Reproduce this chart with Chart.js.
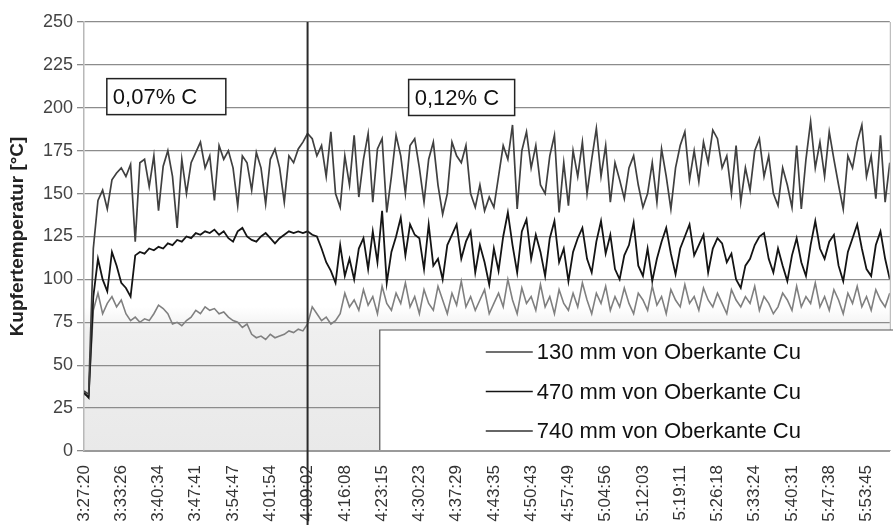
<!DOCTYPE html>
<html>
<head>
<meta charset="utf-8">
<script src="https://cdn.jsdelivr.net/npm/chart.js@4"></script>
<style>
html, body { margin: 0; padding: 0; background: #fff; }
</style>
</head>
<body>
<canvas id="grafico" width="893" height="531"></canvas>
<script>
const zeitLabels = ['3:27:20', '3:33:26', '3:40:34', '3:47:41', '3:54:47', '4:01:54', '4:09:02', '4:16:08',
  '4:23:15', '4:30:23', '4:37:29', '4:43:35', '4:50:43', '4:57:49', '5:04:56', '5:12:03', '5:19:11',
  '5:26:18', '5:33:24', '5:40:31', '5:47:38', '5:53:45']

const reihen = ['130 mm von Oberkante Cu', '470 mm von Oberkante Cu', '740 mm von Oberkante Cu']
const hinweise = ['0,07% C', '0,12% C']

// Kupfertemperatur je Messpunkt (8 Punkte pro Zeitlabel)
const t130 = [35, 33, 118, 146, 152, 141, 158, 162, 165, 160, 167, 122, 168, 170, 154, 172, 140, 166, 175, 160,
  130, 170, 150, 168, 174, 180, 165, 172, 146, 178, 170, 175, 165, 143, 172, 168, 152, 174, 165, 144,
  170, 176, 165, 145, 172, 168, 176, 180, 185, 182, 172, 178, 160, 186, 150, 142, 172, 155, 184, 148,
  170, 185, 145, 176, 182, 139, 160, 184, 172, 150, 178, 182, 165, 145, 170, 180, 155, 138, 150, 180,
  172, 168, 178, 150, 142, 155, 140, 148, 142, 160, 178, 170, 190, 141, 175, 186, 165, 178, 155, 150,
  172, 184, 139, 168, 143, 175, 160, 180, 150, 170, 188, 160, 178, 145, 168, 158, 147, 165, 172, 155,
  142, 150, 168, 145, 176, 160, 141, 165, 178, 186, 158, 175, 157, 180, 168, 187, 182, 165, 172, 150,
  178, 145, 165, 152, 175, 182, 160, 172, 150, 143, 165, 155, 142, 178, 141, 170, 192, 165, 180, 160,
  186, 170, 155, 141, 172, 165, 180, 190, 160, 172, 147, 184, 145, 168]

const t470 = [34, 31, 90, 112, 100, 93, 116, 108, 98, 95, 90, 114, 116, 115, 118, 117, 119, 118, 121, 120,
  123, 122, 125, 124, 127, 126, 128, 127, 129, 126, 128, 124, 122, 128, 130, 125, 123, 122, 125, 127,
  124, 121, 124, 126, 128, 127, 128, 127, 128, 126, 125, 118, 110, 105, 98, 120, 102, 112, 100, 118,
  124, 106, 128, 110, 140, 98, 116, 125, 136, 114, 132, 126, 124, 106, 132, 108, 112, 100, 120, 126,
  132, 112, 122, 128, 104, 120, 110, 97, 118, 105, 125, 139, 120, 104, 128, 135, 112, 126, 116, 102,
  124, 134, 110, 118, 99, 116, 124, 130, 112, 104, 122, 134, 115, 126, 106, 100, 114, 120, 133, 108,
  102, 118, 99, 112, 122, 130, 115, 103, 118, 125, 132, 114, 120, 126, 104, 118, 124, 121, 110, 115,
  100, 95, 108, 112, 120, 125, 127, 112, 104, 118, 108, 99, 114, 124, 110, 102, 120, 134, 118, 112,
  122, 126, 108, 99, 116, 124, 132, 118, 106, 102, 120, 128, 112, 100]

const t740 = [33, 32, 82, 92, 80, 86, 90, 84, 88, 80, 76, 78, 75, 77, 76, 80, 85, 83, 80, 74,
  75, 73, 76, 78, 82, 80, 84, 82, 83, 80, 81, 78, 76, 75, 72, 74, 68, 66, 67, 65,
  68, 66, 67, 68, 70, 69, 71, 70, 74, 84, 80, 76, 78, 74, 76, 80, 92, 84, 88, 82,
  94, 85, 90, 80, 96, 86, 82, 92, 86, 98, 84, 90, 80, 94, 86, 82, 96, 88, 80, 92,
  85, 99, 84, 90, 82, 88, 94, 80, 86, 92, 84, 100, 88, 80, 95, 86, 90, 82, 97, 84,
  90, 80, 94, 86, 82, 92, 84, 98, 88, 80, 92, 86, 96, 82, 90, 84, 95, 86, 80, 92,
  88, 82, 96, 85, 90, 80, 94, 88, 84, 97, 86, 90, 82, 95, 88, 84, 92, 86, 80, 94,
  88, 84, 90, 86, 96, 82, 90, 86, 80, 84, 92, 88, 82, 96, 84, 90, 86, 98, 84, 90,
  82, 94, 88, 80, 92, 86, 96, 84, 90, 82, 94, 88, 84, 92]

const punkteProLabel = 8
const farben = ['#404040', '#141414', '#808080']

function alsPunkte(werte) {
  return werte.map((v, i) => ({ x: i, y: v }))
}

const zeichnung = {
  id: 'zeichnung',
  beforeDraw(chart) {
    const { ctx, chartArea: a, scales: { y } } = chart
    const h = a.bottom - a.top
    const g = ctx.createLinearGradient(0, a.top, 0, a.bottom)
    g.addColorStop(0, '#ffffff')
    g.addColorStop((y.getPixelForValue(84) - a.top) / h, '#ffffff')
    g.addColorStop((y.getPixelForValue(70) - a.top) / h, '#efefef')
    g.addColorStop(1, '#e9e9e9')
    ctx.save()
    ctx.fillStyle = g
    ctx.fillRect(a.left, a.top, a.right - a.left, h)
    ctx.restore()
  },
  afterDraw(chart) {
    const { ctx, chartArea: a, scales: { x, y } } = chart
    ctx.save()

    // rechter Rand
    ctx.strokeStyle = '#b0b0b0'
    ctx.lineWidth = 1
    ctx.beginPath()
    ctx.moveTo(a.right + 0.5, a.top)
    ctx.lineTo(a.right + 0.5, a.bottom)
    ctx.stroke()

    // Trennlinie beim Wechsel der Stahlsorte
    const xs = x.getPixelForValue(48)
    ctx.strokeStyle = '#2a2a2a'
    ctx.lineWidth = 2
    ctx.beginPath()
    ctx.moveTo(xs, a.top)
    ctx.lineTo(xs, a.bottom + 74)
    ctx.stroke()

    // Textfelder
    ctx.font = '22px "Liberation Sans", Arial, sans-serif'
    ctx.textBaseline = 'middle'
    const felder = [
      { text: hinweise[0], l: x.getPixelForValue(4.9), t: y.getPixelForValue(217), w: 119 },
      { text: hinweise[1], l: x.getPixelForValue(69.7), t: y.getPixelForValue(216.5), w: 106 }
    ]
    felder.forEach(f => {
      ctx.fillStyle = '#fff'
      ctx.fillRect(f.l, f.t, f.w, 36)
      ctx.strokeStyle = '#222'
      ctx.lineWidth = 1.5
      ctx.strokeRect(f.l, f.t, f.w, 36)
      ctx.fillStyle = '#111'
      ctx.fillText(f.text, f.l + 6, f.t + 19)
    })

    // Legende
    const lx = x.getPixelForValue(63.5)
    const ly = y.getPixelForValue(70.5)
    ctx.fillStyle = '#fff'
    ctx.fillRect(lx, ly, chart.width - lx, a.bottom - 1 - ly)
    ctx.strokeStyle = '#555'
    ctx.lineWidth = 1.2
    ctx.beginPath()
    ctx.moveTo(lx, a.bottom - 1)
    ctx.lineTo(lx, ly)
    ctx.lineTo(chart.width, ly)
    ctx.stroke()
    reihen.forEach((name, i) => {
      const ry = ly + 22 + i * 39.5
      ctx.strokeStyle = i === 2 ? '#333' : farben[i]
      ctx.lineWidth = 1.5
      ctx.beginPath()
      ctx.moveTo(lx + 106, ry)
      ctx.lineTo(lx + 153, ry)
      ctx.stroke()
      ctx.fillStyle = '#111'
      ctx.fillText(name, lx + 157, ry + 1)
    })
    ctx.restore()
  }
}

new Chart(document.getElementById('grafico'), {
  type: 'line',
  data: {
    datasets: [
      { label: reihen[0], data: alsPunkte(t130), borderColor: farben[0], borderWidth: 1.7 },
      { label: reihen[1], data: alsPunkte(t470), borderColor: farben[1], borderWidth: 1.8 },
      { label: reihen[2], data: alsPunkte(t740), borderColor: farben[2], borderWidth: 1.6 }
    ]
  },
  options: {
    responsive: false,
    animation: false,
    devicePixelRatio: 1,
    layout: { padding: { top: 22, right: 3, left: 0, bottom: 0 } },
    elements: { point: { radius: 0 }, line: { tension: 0 } },
    plugins: { legend: { display: false }, tooltip: { enabled: false } },
    scales: {
      x: {
        type: 'linear',
        min: 0,
        max: t130.length - 1,
        afterFit: s => { s.height = 80 },
        grid: { display: false },
        border: { color: '#9a9a9a', width: 2 },
        ticks: {
          stepSize: punkteProLabel,
          includeBounds: false,
          autoSkip: false,
          minRotation: 90,
          maxRotation: 90,
          padding: 6,
          color: '#333',
          font: { family: '"Liberation Sans", Arial, sans-serif', size: 17 },
          callback: v => (v % punkteProLabel === 0 && zeitLabels[v / punkteProLabel]) || ''
        }
      },
      y: {
        min: 0,
        max: 250,
        afterFit: s => { s.width = 84 },
        grid: { color: '#8c8c8c', lineWidth: 1.3, tickLength: 7 },
        border: { color: '#b8b8b8', width: 1.5 },
        ticks: {
          stepSize: 25,
          padding: 4,
          color: '#444',
          font: { family: '"Liberation Sans", Arial, sans-serif', size: 18 }
        },
        title: {
          display: true,
          text: 'Kupfertemperatur [°C]',
          color: '#222',
          padding: { top: 6, bottom: 0 },
          font: { family: '"Liberation Sans", Arial, sans-serif', size: 19, weight: 'bold' }
        }
      }
    }
  },
  plugins: [zeichnung]
})
</script>
</body>
</html>
